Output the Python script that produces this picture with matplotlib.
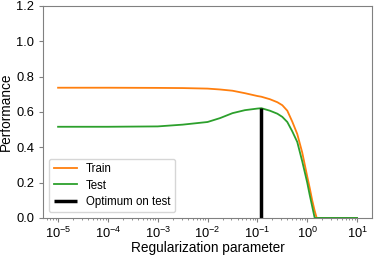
import numpy as np
import matplotlib
matplotlib.use('Agg')
import matplotlib.pyplot as plt
from matplotlib.ticker import NullFormatter

# regularization strengths (log10) and scores
log_alpha = [-5, -4, -3, -2.5, -2, -1.75, -1.5, -1.25, -1, -0.92, -0.75,
             -0.6, -0.5, -0.4, -0.3, -0.2, -0.1, 0, 0.05, 0.1, 0.15, 0.19,
             0.5, 1]
train_score = [0.737, 0.737, 0.736, 0.735, 0.732, 0.727, 0.720, 0.706, 0.690,
               0.686, 0.672, 0.655, 0.638, 0.607, 0.545, 0.475, 0.370, 0.235,
               0.17, 0.10, 0.04, 0.0, 0.0, 0.0]
test_score = [0.516, 0.516, 0.518, 0.528, 0.543, 0.565, 0.593, 0.610, 0.619,
              0.621, 0.607, 0.590, 0.572, 0.543, 0.490, 0.430, 0.320, 0.200,
              0.13, 0.065, 0.0, 0.0, 0.0, 0.0]
alpha_optim = 10 ** -0.92
optim_score = 0.621
decades = [-5, -4, -3, -2, -1, 0, 1]

alphas = np.power(10.0, log_alpha)

plt.rcParams['font.family'] = ['Liberation Sans', 'DejaVu Sans']
plt.rcParams['mathtext.fontset'] = 'custom'
plt.rcParams['mathtext.rm'] = 'Liberation Sans'
plt.rcParams['mathtext.it'] = 'Liberation Sans:italic'
plt.rcParams['mathtext.bf'] = 'Liberation Sans:bold'

fig, ax = plt.subplots(figsize=(3.75, 2.57), dpi=100)
ax.semilogx(alphas, train_score, color='C1', lw=1.3, label='Train')
ax.semilogx(alphas, test_score, color='C2', lw=1.3, label='Test')
ax.vlines(alpha_optim, 0, optim_score, color='k', linewidth=2.5,
          label='Optimum on test')
ax.set_ylim([0, 1.2])
xlim = ax.get_xlim()
ax.set_xticks(np.power(10.0, decades))
ax.set_xlim(xlim)
ax.xaxis.set_minor_formatter(NullFormatter())
ax.set_xlabel('Regularization parameter', fontsize=9.8, labelpad=0)
ax.set_ylabel('Performance', fontsize=9.8, labelpad=2)
ax.tick_params(labelsize=9.3, colors='#808080', labelcolor='black', length=3)
ax.tick_params(axis='x', pad=2.5)
ax.tick_params(which='minor', colors='#808080', length=1.5)
for s in ax.spines.values():
    s.set_color('#808080')
ax.legend(loc='lower left', fontsize=8.3, handlelength=2, borderaxespad=0.5,
          labelspacing=0.35)

plt.subplots_adjust(left=0.115, right=0.992, top=0.977, bottom=0.152)
plt.savefig('out.png', dpi=100)
